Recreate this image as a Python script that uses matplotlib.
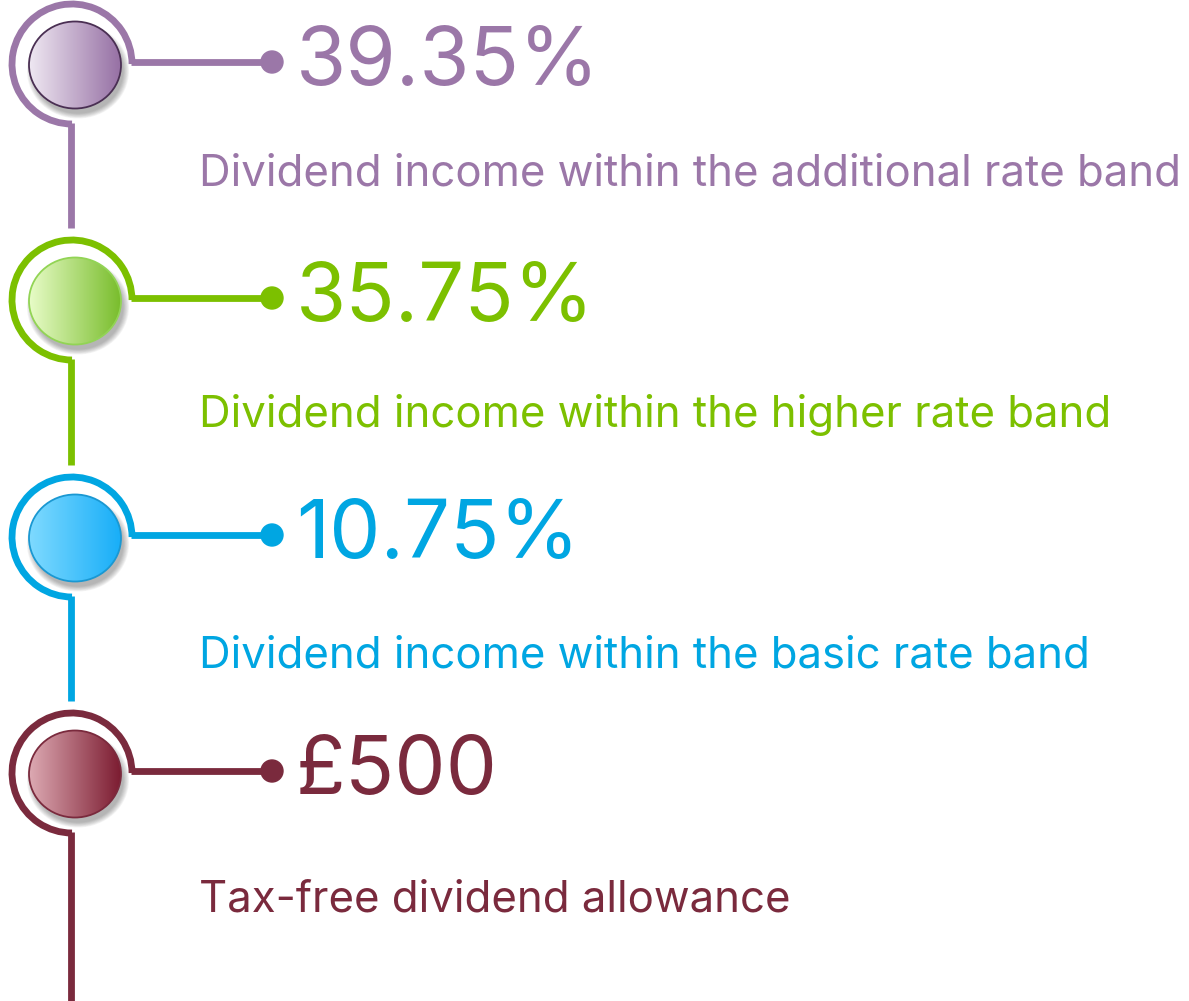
import numpy as np
import matplotlib
matplotlib.use("Agg")
import matplotlib.pyplot as plt
from matplotlib.patches import Arc, Ellipse, Circle
from matplotlib.colors import LinearSegmentedColormap

# ── content ────────────────────────────────────────────────────────────────
values    = ["39.35%", "35.75%", "10.75%", "£500"]
captions  = ["Dividend income within the additional rate band",
             "Dividend income within the higher rate band",
             "Dividend income within the basic rate band",
             "Tax-free dividend allowance"]
colours   = ["#9B77A8", "#7CC000", "#00A6E2", "#7A2A3D"]
grad_lo   = ["#EFE8F2", "#E8FCC8", "#7FDAFF", "#DDAAB3"]
grad_hi   = ["#9670A4", "#79BD2C", "#18AEF8", "#7C1C31"]
edges     = ["#4A2F53", "#92D455", "#1A98D2", "#7A2A3D"]

# ── layout (pixels, y downwards) ───────────────────────────────────────────
W, H = 1189, 1001
row_y = [64, 300, 537, 773]
cap_off = [121, 127, 131, 138]
cx, ring_r = 72, 60
line_w = 4.9

fig = plt.figure(figsize=(W / 100, H / 100), dpi=100)
ax = fig.add_axes([0, 0, 1, 1])
ax.set_xlim(0, W)
ax.set_ylim(H, 0)
ax.set_aspect("equal")
ax.axis("off")

font = "Inter"


def fit_size(text, size, target_px):
    """scale a font size so the rendered text is target_px wide"""
    t = ax.text(0, 0, text, fontsize=size, family=font)
    w = t.get_window_extent(fig.canvas.get_renderer()).width
    t.remove()
    return size * target_px / w


num_size = fit_size(values[0], 60, 304)
cap_size = fit_size(captions[0], 30, 982)

for i, y in enumerate(row_y):
    c = colours[i]
    # open ring: missing the lower-right quarter
    ax.add_patch(Arc((cx, y), 2 * ring_r, 2 * ring_r, theta1=90, theta2=360,
                     color=c, lw=line_w, capstyle="butt"))
    # stem down to next ring
    y_end = row_y[i + 1] - ring_r - 12 if i + 1 < len(row_y) else H + 5
    ax.plot([cx - 1, cx - 1], [y + ring_r - 1, y_end], color=c, lw=line_w,
            solid_capstyle="butt")
    # connector + dot
    ax.plot([cx + ring_r - 1, 272], [y - 2, y - 2], color=c, lw=line_w,
            solid_capstyle="butt")
    ax.add_patch(Circle((272, y - 2), 11, color=c, zorder=3))

    # soft shadow under the button
    ex, ey, ew, eh = cx + 3, y + 1, 92, 87
    for k in range(8):
        ax.add_patch(Ellipse((ex + 3, ey + 6), ew + 10 - k * 1.6, eh + 8 - k * 1.4,
                             color="#303030", alpha=0.05, lw=0, zorder=2))

    # gradient button
    cmap = LinearSegmentedColormap.from_list(f"g{i}", [grad_lo[i], grad_hi[i]])
    grad = np.linspace(0, 1, 256).reshape(1, -1)
    el = Ellipse((ex, ey), ew, eh, facecolor="none", edgecolor=edges[i],
                 lw=1.3, zorder=5)
    im = ax.imshow(grad, cmap=cmap, extent=[ex - ew / 2, ex + ew / 2,
                   ey + eh / 2, ey - eh / 2], aspect="auto", zorder=4,
                   interpolation="bilinear")
    ax.add_patch(el)
    im.set_clip_path(el)

    ax.text(296, y + 21, values[i], color=c, fontsize=num_size, family=font,
            va="baseline", ha="left")
    ax.text(199, y + cap_off[i], captions[i], color=c, fontsize=cap_size,
            family=font, va="baseline", ha="left")

ax.set_xlim(0, W)
ax.set_ylim(H, 0)
fig.savefig("out.png", dpi=100, facecolor="white")
